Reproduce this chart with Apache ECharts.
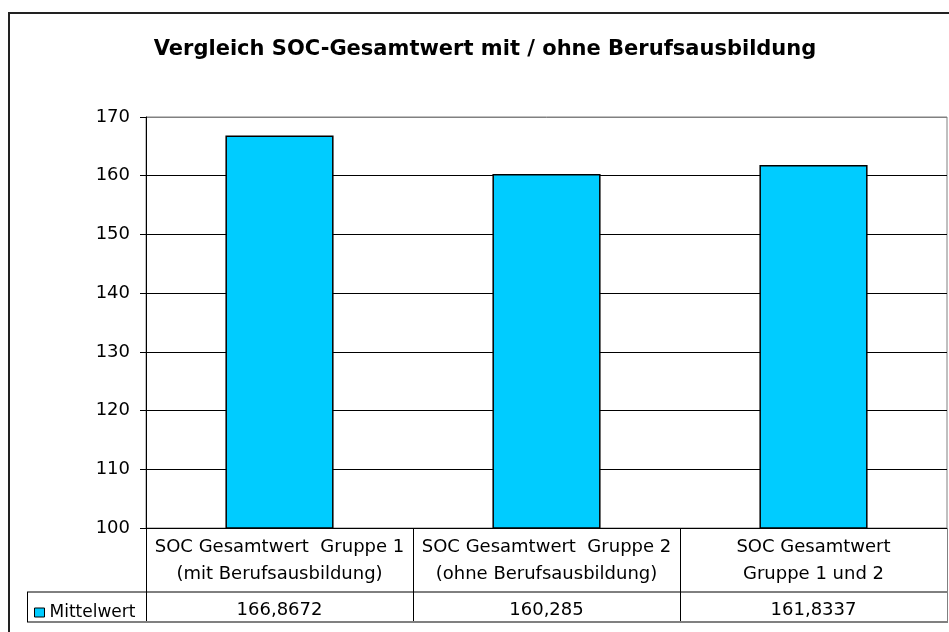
<!DOCTYPE html>
<html>
<head>
<meta charset="utf-8">
<script src="https://cdn.jsdelivr.net/npm/echarts@6/dist/echarts.min.js"></script>
<style>
  html, body { margin: 0; padding: 0; background: #fff; }
  #chart { width: 949px; height: 632px; }
</style>
</head>
<body>
<div id="chart"></div>
<script>
// data
const categories = [
  'SOC Gesamtwert  Gruppe 1\n(mit Berufsausbildung)',
  'SOC Gesamtwert  Gruppe 2\n(ohne Berufsausbildung)',
  'SOC Gesamtwert\nGruppe 1 und 2'
];
const meanValues = [166.8672, 160.285, 161.8337];
const seriesName = 'Mittelwert';
const yTicks = [100, 110, 120, 130, 140, 150, 160, 170];

// the original text is wide/spaced, DejaVu gets the widths closer
const FONT = "'DejaVu Sans', 'Liberation Sans', Arial, sans-serif";
const chart = echarts.init(document.getElementById('chart'));

// German decimal comma
const fmt = v => String(v).replace('.', ',');

const option = {
  animation: false,
  backgroundColor: '#fff',
  textStyle: { fontFamily: FONT },
  title: {
    text: 'Vergleich SOC-Gesamtwert mit / ohne Berufsausbildung',
    left: 480,
    textAlign: 'center',
    top: 34,
    textStyle: { fontFamily: FONT, fontSize: 21, fontWeight: 'bold', color: '#000' }
  },
  legend: {
    data: [seriesName],
    left: 29,
    top: 599,
    icon: 'rect',
    itemWidth: 10,
    itemHeight: 9,
    itemGap: 7,
    textStyle: { fontFamily: FONT, fontSize: 17, color: '#000' },
    itemStyle: { borderColor: '#000', borderWidth: 1 }
  },
  grid: {
    left: 146, right: 2, top: 117, bottom: 104,
    show: true, borderColor: '#808080', borderWidth: 1
  },
  xAxis: [
    {
      type: 'category',
      data: categories,
      axisLine: { lineStyle: { color: '#000', width: 1 } },
      axisTick: { show: true, length: 94, lineStyle: { color: '#000' } },
      axisLabel: {
        margin: 6, fontSize: 18, lineHeight: 27, color: '#000', fontFamily: FONT,
        interval: 0
      }
    },
    {
      type: 'category',
      data: categories,
      position: 'bottom',
      offset: 64,
      axisLine: { show: false },
      axisTick: { show: false },
      axisLabel: {
        margin: 9, fontSize: 18, color: '#000', fontFamily: FONT, interval: 0,
        formatter: (v, i) => fmt(meanValues[i])
      }
    }
  ],
  yAxis: {
    type: 'value',
    min: yTicks[0],
    max: yTicks[yTicks.length - 1],
    interval: 10,
    axisLine: { show: true, lineStyle: { color: '#000' } },
    axisTick: { show: true, length: 6, lineStyle: { color: '#000' } },
    axisLabel: { fontSize: 18, color: '#000', margin: 16, fontFamily: FONT },
    splitLine: {
      show: true,
      lineStyle: { color: ['#000', '#000', '#000', '#000', '#000', '#000', '#000', '#808080'], width: 1 }
    }
  },
  series: [{
    name: seriesName,
    type: 'bar',
    xAxisIndex: 0,
    data: meanValues,
    barWidth: '40.5%',
    itemStyle: { color: '#00CCFF', borderColor: '#000', borderWidth: 1.5 }
  }],
  graphic: [
    // outer chart frame (cut off at right/bottom)
    { type: 'rect', silent: true, z: 0,
      shape: { x: 9, y: 13, width: 980, height: 700 },
      style: { fill: 'none', stroke: '#222', lineWidth: 2 } },
    // data table rows
    { type: 'line', silent: true, z: 10,
      shape: { x1: 27, y1: 592, x2: 947, y2: 592 },
      style: { stroke: '#000', lineWidth: 1 } },
    { type: 'line', silent: true, z: 10,
      shape: { x1: 27, y1: 622, x2: 948, y2: 622 },
      style: { stroke: '#808080', lineWidth: 2 } },
    { type: 'line', silent: true, z: 10,
      shape: { x1: 27.5, y1: 592, x2: 27.5, y2: 622 },
      style: { stroke: '#000', lineWidth: 1 } },
    { type: 'line', silent: true, z: 10,
      shape: { x1: 947.5, y1: 528, x2: 947.5, y2: 622 },
      style: { stroke: '#808080', lineWidth: 1 } }
  ]
};

chart.setOption(option);
</script>
</body>
</html>
